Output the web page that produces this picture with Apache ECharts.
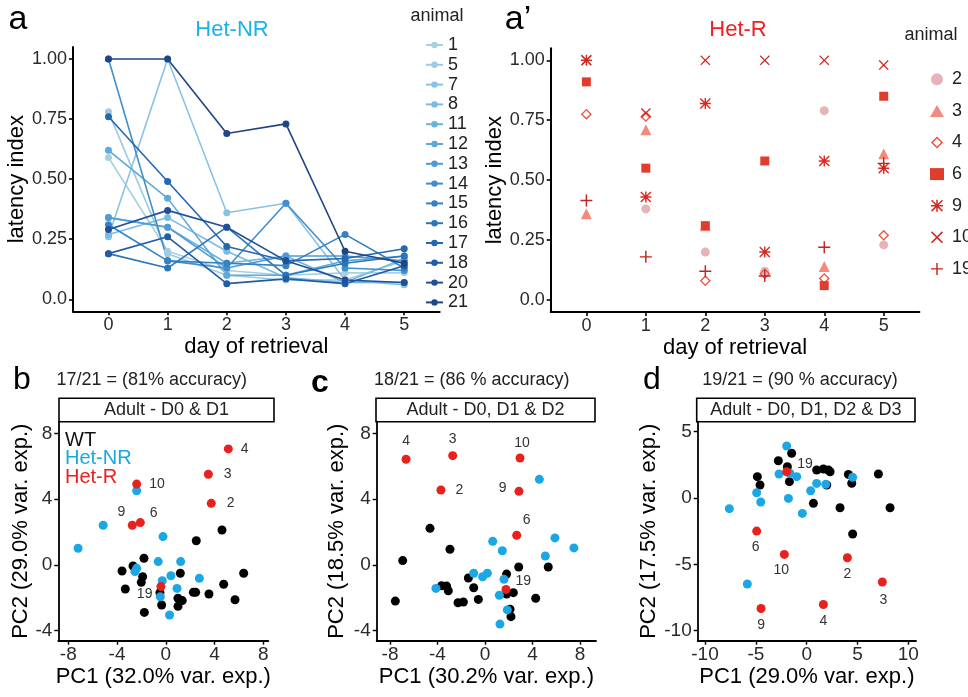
<!DOCTYPE html>
<html><head><meta charset="utf-8">
<script src="https://cdn.jsdelivr.net/npm/echarts@6/dist/echarts.min.js"></script>
<style>html,body{margin:0;padding:0;background:#fff}#c{width:968px;height:697px}</style>
</head><body><div id="c"></div>
<script>
// ---------- DATA ----------
const days = [0, 1, 2, 3, 4, 5];
const dayTicks = [0, 1, 2, 3, 4, 5];
const latencyTicks = [0, 0.25, 0.5, 0.75, 1];

// Panel a: Het-NR animals, latency index per day 0..5
const nrAnimals = ['1', '5', '7', '8', '11', '12', '13', '14', '15', '16', '17', '18', '20', '21'];
const nrLatency = [
  [0.59, 0.20, 0.12, 0.10, 0.11, 0.11],
  [0.78, 0.19, 0.10, 0.08, 0.08, 0.16],
  [0.26, 1.00, 0.36, 0.40, 0.08, 0.06],
  [0.27, 0.34, 0.20, 0.09, 0.07, 0.17],
  [0.34, 0.30, 0.15, 0.18, 0.07, 0.07],
  [0.62, 0.42, 0.10, 0.10, 0.16, 0.18],
  [0.34, 0.30, 0.13, 0.18, 0.18, 0.16],
  [1.00, 0.16, 0.13, 0.40, 0.13, 0.12],
  [0.31, 0.16, 0.15, 0.14, 0.27, 0.13],
  [0.19, 0.13, 0.30, 0.10, 0.15, 0.18],
  [0.76, 0.49, 0.22, 0.16, 0.17, 0.21],
  [0.19, 0.26, 0.065, 0.085, 0.065, 0.14],
  [0.29, 0.37, 0.30, 0.16, 0.08, 0.07],
  [1.00, 1.00, 0.69, 0.73, 0.20, 0.15]
];

// Panel a': Het-R animals
const rAnimals = ['2', '3', '4', '6', '9', '10', '19'];
const rLatency = [
  [null, 0.38, 0.20, 0.12, 0.79, 0.23],
  [0.36, 0.71, 0.31, null, 0.14, 0.61],
  [0.775, 0.765, 0.08, 0.11, 0.09, 0.27],
  [0.91, 0.55, 0.31, 0.58, 0.06, 0.85],
  [1.00, 0.43, 0.82, 0.20, 0.58, 0.55],
  [1.00, 0.78, 1.00, 1.00, 1.00, 0.98],
  [0.415, 0.18, 0.12, 0.10, 0.22, 0.57]
];

// Panel b: PCA Adult - D0 & D1
const bWT = [[4.61,2.12],[2.50,1.47],[-1.79,0.40],[-2.69,-0.07],[-3.59,-0.37],[-1.90,-0.72],[-2.01,-1.06],[-3.32,-1.47],[1.19,-0.51],[6.39,-0.51],[4.75,-1.18],[2.26,-1.67],[2.45,-1.67],[3.54,-1.77],[5.68,-2.12],[-0.48,-1.69],[-0.34,-2.44],[1.00,-2.03],[1.35,-2.17],[1.00,-2.52],[-1.76,-2.89]];
const bNR = [[-2.39,4.51],[-5.14,2.41],[-7.20,1.01],[-0.23,1.72],[-0.62,0.20],[1.22,0.20],[-2.39,-0.21],[-2.53,-0.41],[-0.29,-0.96],[0.42,-0.66],[2.75,-0.82],[0.92,-1.43],[-0.45,-1.94],[0.31,-3.05]];
const bR = [[5.13,7.05],[3.49,5.51],[3.73,3.74],[-2.39,4.91],[-2.75,2.41],[-2.09,2.57],[-0.40,-1.32]];
const bRNames = ['4', '3', '2', '10', '9', '6', '19'];

// Panel c: PCA Adult - D0, D1 & D2
const cWT = [[-4.63,2.22],[-2.95,0.95],[-6.93,0.26],[-7.55,-2.20],[-1.40,-0.80],[-0.95,-1.39],[-3.65,-1.27],[-3.23,-1.29],[-3.09,-1.57],[-2.27,-2.30],[-1.82,-2.26],[-0.56,-2.10],[1.82,-0.56],[2.84,-0.13],[5.33,-0.13],[2.39,-1.69],[1.82,-1.77],[4.27,-2.03],[2.11,-2.70],[2.19,-3.15]];
const cNR = [[4.58,5.20],[0.65,1.43],[1.46,0.86],[5.89,1.64],[7.49,1.03],[5.08,0.54],[-0.95,-0.51],[-0.20,-0.72],[0.20,-0.51],[1.60,-0.88],[-4.13,-1.43],[1.21,-1.85],[1.88,-2.74],[1.26,-3.60]];
const cR = [[-6.65,6.42],[-2.72,6.64],[2.95,6.50],[-3.71,4.55],[2.86,4.47],[2.67,1.80],[1.77,-1.49]];
const cRNames = ['4', '3', '10', '2', '9', '6', '19'];

// Panel d: PCA Adult - D0, D1, D2 & D3
const dWT = [[-1.48,3.37],[-2.79,2.81],[-1.90,2.36],[-4.85,1.61],[-4.59,0.98],[-1.70,1.23],[0.98,2.11],[1.64,2.19],[2.13,2.11],[2.30,1.98],[1.97,0.98],[4.10,1.78],[4.43,1.11],[7.05,1.81],[0.66,-0.40],[3.28,-0.73],[8.20,-0.73],[4.52,-2.71]];
const dNR = [[-1.97,3.92],[-2.72,1.81],[-0.98,1.61],[0.98,1.10],[1.87,1.03],[0.39,0.55],[-4.92,0.40],[-4.52,-0.30],[-1.80,-0.03],[-7.61,-0.80],[-0.43,-1.16],[4.52,1.56],[-5.84,-6.48],[-1.64,1.86]];
const dR = [[-1.97,1.98],[-4.92,-2.49],[-2.20,-4.25],[4.00,-4.50],[7.44,-6.33],[-4.49,-8.32],[1.64,-8.02]];
const dRNames = ['19', '6', '10', '2', '3', '9', '4'];

const pcTicks8 = [-8, -4, 0, 4, 8];
const pcTicksY8 = [-4, 0, 4, 8];
const pcTicks10 = [-10, -5, 0, 5, 10];
const pcTicksY10 = [-10, -5, 0, 5];

// ---------- STYLE ----------
const FONT = 'Liberation Sans, Arial, sans-serif';
const nrColors = ['#a9d0e0','#9ccbe2','#89c3e4','#79bbe3','#6bb2df','#5ea8da','#4f9bd3','#418ecb','#3581c3','#2b75ba','#2568b0','#225ca4','#205096','#1f4585'];
const rColors = ['#e6b3b6','#f4897e','#ee5040','#e03e2c','#d72b22','#d0261f','#c8221c'];
const rSymbols = [
  'circle', 'triangle',
  'path://M10,0 L20,10 L10,20 L0,10 Z M10,3.4 L3.4,10 L10,16.6 L16.6,10 Z',
  'rect',
  'path://M8.7,0 H11.3 V20 H8.7 Z M0,8.7 H20 V11.3 H0 Z M1.8,0 L20,18.2 L18.2,20 L0,1.8 Z M18.2,0 L20,1.8 L1.8,20 L0,18.2 Z',
  'path://M0,1.8 L1.8,0 L10,8.2 L18.2,0 L20,1.8 L11.8,10 L20,18.2 L18.2,20 L10,11.8 L1.8,20 L0,18.2 L8.2,10 Z',
  'path://M8.8,0 H11.2 V8.8 H20 V11.2 H11.2 V20 H8.8 V11.2 H0 V8.8 H8.8 Z'
];
const rSizes = [9, 11, 11, 9, 11, 10, 12];
const BLUE = '#1ba7e3', RED = '#e8211e', BLACK = '#000000';
// label placements for red points: [position, distance, dx, dy]
const bPlace = [['right',8,0,0],['right',11,0,0],['right',11,0,0],['right',8,0,0],['top',2,-11,0],['right',5,0,-9],['left',4,0,8]];
const cPlace = [['top',7,0,0],['top',5,0,0],['top',3,2,0],['right',10,0,0],['left',8,0,-3],['top',4,10,0],['right',5,0,-8]];
const dPlace = [['right',6,0,-8],['bottom',5,-1,0],['bottom',4,-3,0],['bottom',5,0,0],['bottom',7,1,0],['bottom',5,0,0],['bottom',5,0,0]];

function axis(gi, min, max, ticks, name, gap, lw, fs, fmt, isY) {
  return {
    gridIndex: gi, type: 'value', min: min, max: max,
    axisLine: { show: true, onZero: false, lineStyle: { color: '#000', width: lw } },
    axisTick: { show: true, length: 4, customValues: ticks, lineStyle: { color: '#000', width: lw * 0.8 } },
    axisLabel: { customValues: ticks, fontSize: fs, color: '#2a2a2a', fontFamily: FONT, margin: isY ? 6 : 5, formatter: fmt },
    splitLine: { show: false },
    name: name, nameLocation: 'middle', nameGap: gap,
    nameTextStyle: { fontSize: 22, color: '#000', fontFamily: FONT }
  };
}
const latFmt = v => (v === 0 ? '0.0' : v.toFixed(2));
const intFmt = v => String(v);

const grids = [
  { left: 73, top: 47, width: 366.7, height: 264.3 },
  { left: 550.7, top: 48.3, width: 368.7, height: 263.7 },
  { left: 58.3, top: 421.7, width: 210, height: 219 },
  { left: 376.7, top: 421.7, width: 219.3, height: 219 },
  { left: 697.7, top: 421.7, width: 218.3, height: 219 }
].map(g => Object.assign(g, { outerBoundsMode: 'none', containLabel: false }));

const xAxes = [
  axis(0, -0.6, 5.6, dayTicks, 'day of retrieval', 25, 2, 18, intFmt, false),
  axis(1, -0.6, 5.6, dayTicks, 'day of retrieval', 25, 2, 18, intFmt, false),
  axis(2, -8.82, 8.41, pcTicks8, 'PC1 (32.0% var. exp.)', 25, 1.8, 19, intFmt, false),
  axis(3, -9.12, 9.35, pcTicks8, 'PC1 (30.2% var. exp.)', 25, 1.8, 19, intFmt, false),
  axis(4, -10.72, 10.75, pcTicks10, 'PC1 (29.0% var. exp.)', 25, 1.8, 19, intFmt, false)
];
const yAxes = [
  axis(0, -0.05, 1.05, latencyTicks, 'latency index', 44, 2, 18, latFmt, true),
  axis(1, -0.05, 1.05, latencyTicks, 'latency index', 41, 2, 18, latFmt, true),
  axis(2, -4.61, 8.705, pcTicksY8, 'PC2 (29.0% var. exp.)', 24, 1.8, 19, intFmt, true),
  axis(3, -4.61, 8.705, pcTicksY8, 'PC2 (18.5% var. exp.)', 29, 1.8, 19, intFmt, true),
  axis(4, -10.75, 5.75, pcTicksY10, 'PC2 (17.5% var. exp.)', 28, 1.8, 19, intFmt, true)
];

const series = [];
nrAnimals.forEach((a, i) => {
  series.push({
    name: a, type: 'line', xAxisIndex: 0, yAxisIndex: 0,
    data: days.map((d, j) => [d, nrLatency[i][j]]),
    symbol: 'circle', symbolSize: 7, showSymbol: true,
    lineStyle: { color: nrColors[i], width: 1.6 },
    itemStyle: { color: nrColors[i], opacity: 1 },
    emphasis: { disabled: true }, animation: false
  });
});
rAnimals.forEach((a, i) => {
  series.push({
    name: a, type: 'scatter', xAxisIndex: 1, yAxisIndex: 1,
    data: days.map((d, j) => [d, rLatency[i][j]]).filter(p => p[1] !== null),
    symbol: rSymbols[i], symbolSize: rSizes[i],
    itemStyle: { color: rColors[i], opacity: 1 },
    emphasis: { disabled: true }, animation: false
  });
});
function groupSeries(gi, pts, color) {
  return { type: 'scatter', xAxisIndex: gi, yAxisIndex: gi, data: pts, symbolSize: 9,
    itemStyle: { color: color, opacity: 1 }, emphasis: { disabled: true }, animation: false };
}
function redSeries(gi, pts, names, place) {
  return {
    type: 'scatter', xAxisIndex: gi, yAxisIndex: gi, symbolSize: 9, itemStyle: { color: RED, opacity: 1 }, z: 5,
    emphasis: { disabled: true }, animation: false,
    data: pts.map((p, i) => ({
      value: p,
      label: { show: true, formatter: names[i], position: place[i][0], distance: place[i][1],
        offset: [place[i][2], place[i][3]], fontSize: 14, color: '#333', fontFamily: FONT }
    }))
  };
}
series.push(groupSeries(2, bWT, BLACK), groupSeries(2, bNR, BLUE), redSeries(2, bR, bRNames, bPlace));
series.push(groupSeries(3, cWT, BLACK), groupSeries(3, cNR, BLUE), redSeries(3, cR, cRNames, cPlace));
series.push(groupSeries(4, dWT, BLACK), groupSeries(4, dNR, BLUE), redSeries(4, dR, dRNames, dPlace));

function txt(x, y, s, size, color, align, weight) {
  return { type: 'text', x: x, y: y, silent: true,
    style: { text: s, fontSize: size, fill: color || '#000', fontFamily: FONT,
      align: align || 'center', verticalAlign: 'middle', fontWeight: weight || 'normal' } };
}
function strip(x0, x1, label) {
  return [
    { type: 'rect', shape: { x: x0, y: 398.3, width: x1 - x0, height: 23.4 }, silent: true,
      style: { fill: '#fff', stroke: '#000', lineWidth: 1.6 } },
    txt((x0 + x1) / 2, 410.5, label, 18, '#222')
  ];
}

const graphic = [
  txt(18, 20, 'a', 34, '#000'),
  txt(232, 30, 'Het-NR', 22, '#1ab2ec'),
  txt(437, 16, 'animal', 18, '#222'),
  txt(518, 20, 'a\u2019', 34, '#000'),
  txt(738, 30, 'Het-R', 22, '#ee2024'),
  txt(931, 35, 'animal', 18, '#222'),
  txt(22, 380, 'b', 32, '#000'),
  txt(151.7, 380, '17/21 = (81% accuracy)', 18, '#222'),
  txt(320, 383, 'c', 32, '#000', 'center', 'bold'),
  txt(471.7, 380, '18/21 = (86 % accuracy)', 18, '#222'),
  txt(652, 380, 'd', 32, '#000'),
  txt(800, 380, '19/21 = (90 % accuracy)', 18, '#222'),
  txt(65, 440, 'WT', 20, '#111', 'left'),
  txt(65, 458.5, 'Het-NR', 20, BLUE, 'left'),
  txt(65, 477, 'Het-R', 20, RED, 'left')
].concat(strip(59, 274, 'Adult - D0 & D1'), strip(376, 595, 'Adult - D0, D1 & D2'), strip(696.7, 915, 'Adult - D0, D1, D2 & D3'));

const legends = [
  { data: nrAnimals, orient: 'vertical', left: 420, top: 31, itemWidth: 17, itemHeight: 8, itemGap: 1.8,
    selectedMode: false, textStyle: { fontSize: 18, color: '#222', lineHeight: 18, fontFamily: FONT } },
  { data: rAnimals, orient: 'vertical', left: 925, top: 65.3, itemWidth: 14, itemHeight: 12, itemGap: 13.6,
    selectedMode: false, textStyle: { fontSize: 18, color: '#222', lineHeight: 18, fontFamily: FONT, padding: [0, 0, 0, 3] } }
];

const chart = echarts.init(document.getElementById('c'), null, { renderer: 'canvas' });
chart.setOption({
  backgroundColor: '#fff', animation: false,
  textStyle: { fontFamily: FONT },
  grid: grids, xAxis: xAxes, yAxis: yAxes, series: series, legend: legends, graphic: graphic
});
</script></body></html>
